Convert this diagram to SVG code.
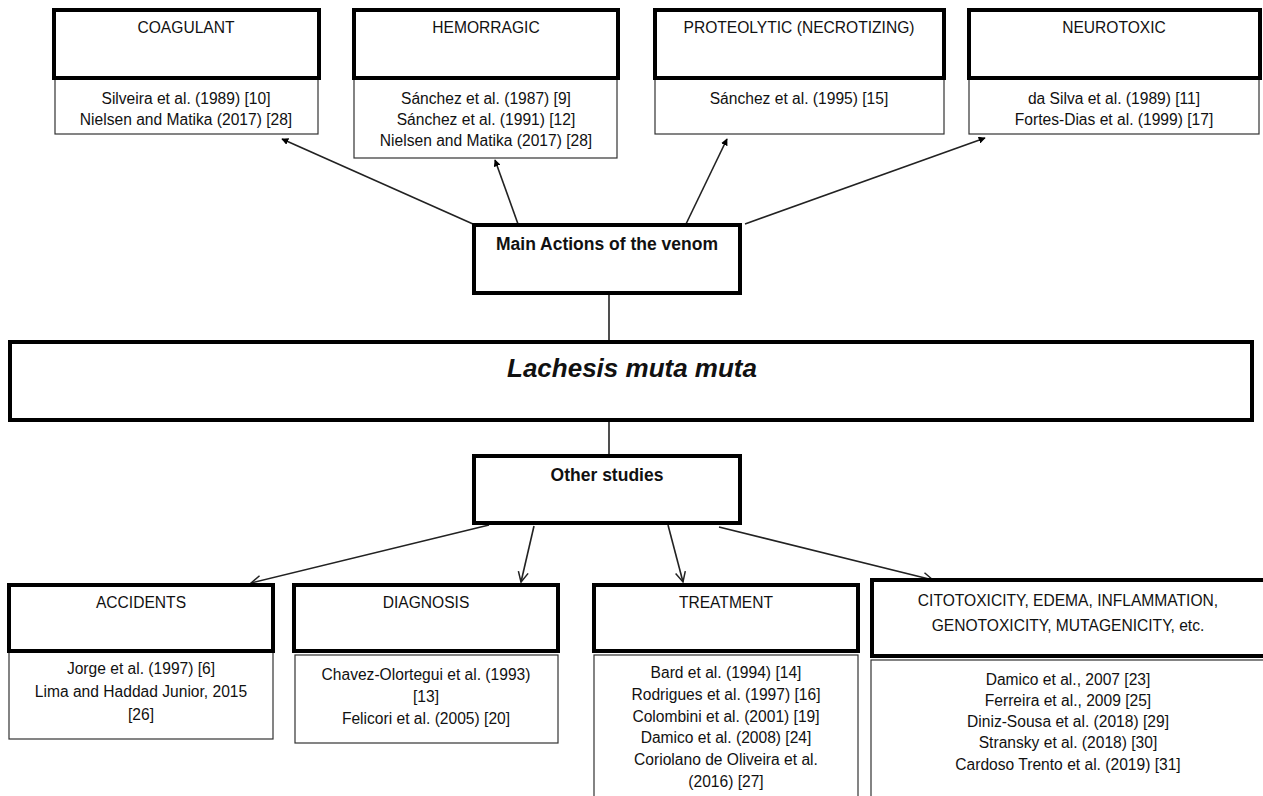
<svg xmlns="http://www.w3.org/2000/svg" width="1263" height="796" viewBox="0 0 1263 796">
<style>
text{font-family:"Liberation Sans",Arial,sans-serif;font-size:15.6px;fill:#111;text-anchor:middle}
.th{fill:#fff;stroke:#000;stroke-width:4}
.tn{fill:#fff;stroke:#333;stroke-width:1.2}
.b{font-weight:bold;font-size:17.5px}
.c{stroke:#222;stroke-width:1.6;fill:none}
</style>
<defs>
<marker id="af" viewBox="0 0 10 10" refX="9" refY="5" markerWidth="7" markerHeight="7" orient="auto" markerUnits="userSpaceOnUse">
<path d="M0,0 L10,5 L0,10 z" fill="#000"/>
</marker>
<marker id="ao" viewBox="0 0 12 12" refX="11" refY="6" markerWidth="12" markerHeight="12" orient="auto" markerUnits="userSpaceOnUse">
<path d="M1,1 L11,6 L1,11" fill="none" stroke="#222" stroke-width="1.5"/>
</marker>
</defs>
<rect width="1263" height="796" fill="#fff"/>
<g id="connectors">
<line class="c" x1="473" y1="224" x2="282" y2="139" marker-end="url(#af)"/>
<line class="c" x1="518" y1="224" x2="495" y2="160" marker-end="url(#af)"/>
<line class="c" x1="686" y1="224" x2="727" y2="139" marker-end="url(#af)"/>
<line class="c" x1="745" y1="224" x2="985" y2="138" marker-end="url(#af)"/>
<line class="c" x1="609" y1="293" x2="609" y2="341"/>
<line class="c" x1="609" y1="420" x2="609" y2="455"/>
<line class="c" x1="489" y1="525" x2="251" y2="583" marker-end="url(#ao)"/>
<line class="c" x1="534" y1="526" x2="521" y2="582" marker-end="url(#ao)"/>
<line class="c" x1="668" y1="525" x2="683" y2="582" marker-end="url(#ao)"/>
<line class="c" x1="719" y1="527" x2="933" y2="580" marker-end="url(#ao)"/>
</g>
<g id="coagulant">
<rect class="tn" x="55" y="78" width="263" height="56"/>
<rect class="th" x="54" y="10" width="265" height="68"/>
<text x="186" y="33">COAGULANT</text>
<text x="186" y="104">Silveira et al. (1989) [10]</text>
<text x="186" y="125">Nielsen and Matika (2017) [28]</text>
</g>
<g id="hemorragic">
<rect class="tn" x="354" y="78" width="263" height="80"/>
<rect class="th" x="354" y="10" width="264" height="68"/>
<text x="486" y="33">HEMORRAGIC</text>
<text x="486" y="104">Sánchez et al. (1987) [9]</text>
<text x="486" y="125">Sánchez et al. (1991) [12]</text>
<text x="486" y="146">Nielsen and Matika (2017) [28]</text>
</g>
<g id="proteolytic">
<rect class="tn" x="655" y="78" width="289" height="56"/>
<rect class="th" x="655" y="10" width="289" height="68"/>
<text x="799" y="33">PROTEOLYTIC (NECROTIZING)</text>
<text x="799" y="104">Sánchez et al. (1995) [15]</text>
</g>
<g id="neurotoxic">
<rect class="tn" x="969" y="78" width="290" height="56"/>
<rect class="th" x="969" y="10" width="291" height="68"/>
<text x="1114" y="33">NEUROTOXIC</text>
<text x="1114" y="104">da Silva et al. (1989) [11]</text>
<text x="1114" y="125">Fortes-Dias et al. (1999) [17]</text>
</g>
<g id="main-actions">
<rect class="th" x="474" y="225" width="266" height="68"/>
<text class="b" x="607" y="250">Main Actions of the venom</text>
</g>
<g id="lachesis">
<rect class="th" x="10" y="342" width="1242" height="78"/>
<text x="632" y="377" style="font-size:26px;font-weight:bold;font-style:italic">Lachesis muta muta</text>
</g>
<g id="other-studies">
<rect class="th" x="474" y="456" width="266" height="67"/>
<text class="b" x="607" y="481">Other studies</text>
</g>
<g id="accidents">
<rect class="tn" x="9" y="651" width="264" height="88"/>
<rect class="th" x="9" y="585" width="264" height="66"/>
<text x="141" y="608">ACCIDENTS</text>
<text x="141" y="674">Jorge et al. (1997) [6]</text>
<text x="141" y="697">Lima and Haddad Junior, 2015</text>
<text x="141" y="720">[26]</text>
</g>
<g id="diagnosis">
<rect class="tn" x="295" y="655" width="263" height="88"/>
<rect class="th" x="294" y="585" width="264" height="66"/>
<text x="426" y="608">DIAGNOSIS</text>
<text x="426" y="680">Chavez-Olortegui et al. (1993)</text>
<text x="426" y="702">[13]</text>
<text x="426" y="724">Felicori et al. (2005) [20]</text>
</g>
<g id="treatment">
<rect class="tn" x="594" y="655" width="264" height="150"/>
<rect class="th" x="594" y="585" width="264" height="66"/>
<text x="726" y="608">TREATMENT</text>
<text x="726" y="678">Bard et al. (1994) [14]</text>
<text x="726" y="700">Rodrigues et al. (1997) [16]</text>
<text x="726" y="722">Colombini et al. (2001) [19]</text>
<text x="726" y="743">Damico et al. (2008) [24]</text>
<text x="726" y="765">Coriolano de Oliveira et al.</text>
<text x="726" y="787">(2016) [27]</text>
</g>
<g id="citotoxicity">
<rect class="tn" x="871" y="660" width="400" height="150"/>
<rect class="th" x="872" y="580" width="400" height="76"/>
<text x="1068" y="606">CITOTOXICITY, EDEMA, INFLAMMATION,</text>
<text x="1068" y="631">GENOTOXICITY, MUTAGENICITY, etc.</text>
<text x="1068" y="685">Damico et al., 2007 [23]</text>
<text x="1068" y="706">Ferreira et al., 2009 [25]</text>
<text x="1068" y="727">Diniz-Sousa et al. (2018) [29]</text>
<text x="1068" y="748">Stransky et al. (2018) [30]</text>
<text x="1068" y="770">Cardoso Trento et al. (2019) [31]</text>
</g>
</svg>
